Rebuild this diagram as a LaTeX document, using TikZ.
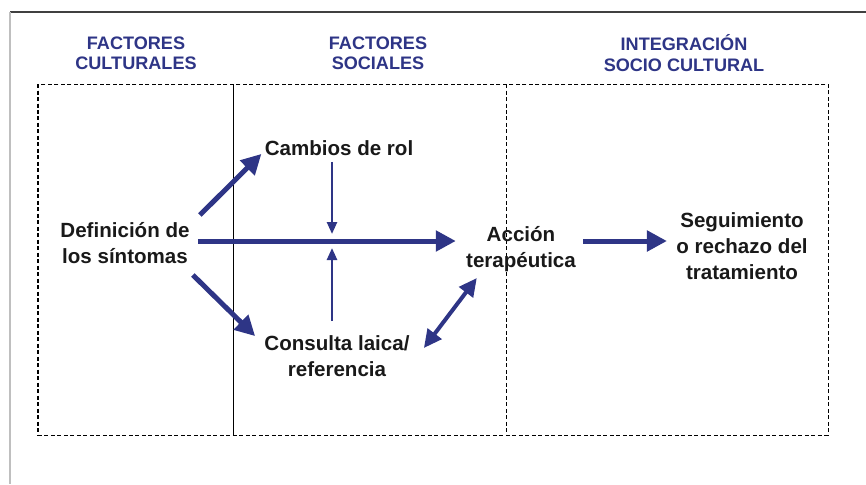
\documentclass[tikz,border=0pt]{standalone}
\usepackage{fontspec}
\setmainfont{Liberation Sans}
\usetikzlibrary{arrows.meta}
\definecolor{azul}{RGB}{46,53,134}
\definecolor{tinta}{RGB}{25,25,25}
\tikzset{
    TT/.style ={align=center, text=azul, font=\fontsize{10.3}{11.6}\selectfont\bfseries, inner sep=0pt},
    TX/.style ={align=center, text=tinta, font=\fontsize{11.7}{14.8}\selectfont\bfseries, inner sep=0.06cm},
    AR1/.style ={draw=azul, line width=0.1cm, -{Triangle[length=0.4cm,width=0.4cm]}},
    AR2/.style ={draw=azul, line width=0.05cm, -{Triangle[length=0.24cm,width=0.2cm]}},
    AR3/.style ={draw=azul, line width=0.08cm, {Triangle[length=0.36cm,width=0.34cm]}-{Triangle[length=0.36cm,width=0.34cm]}},
    DA/.style ={draw=black, line width=0.02cm, dash pattern=on 0.08cm off 0.05cm}}

\begin{document}
\begin{tikzpicture}[x=0.02cm, y=-0.02cm]
        \useasboundingbox (0,0) rectangle (866,484);
        % marco
        \draw[line width=0.03cm, black!75] (10,12) -- (866,12);
        \draw[line width=0.04cm, black!25] (10,12) -- (10,484);
        \draw[DA] (38,84) rectangle (828,435);
        \draw[DA, line width=0.04cm] (38,84) -- (38,435);
        \draw[DA] (506,84) -- (506,435);
        \draw[line width=0.02cm] (233,84) -- (233,435);
        % titulos
        \node[TT] (cult) at (136,53) {FACTORES\\CULTURALES};
        \node[TT] (soc) at (378,53) {FACTORES\\SOCIALES};
        \node[TT] (integ) at (684,53) {INTEGRACIÓN\\SOCIO CULTURAL};
        % nodos
        \node[TX] (def) at (125,243) {Definición de\\los síntomas};
        \node[TX] (cambios) at (339,148) {Cambios de rol};
        \node[TX] (consulta) at (337,356) {Consulta laica/\\referencia};
        \node[TX] (accion) at (521,249) {Acción\\terapéutica};
        \node[TX] (seg) at (742,246) {Seguimiento\\o rechazo del\\tratamiento};
        \coordinate (cruce) at (332,241);
        % flechas
        \draw[AR1] ([shift={(7,-4)}]def.north east) -- ([shift={(0,-5)}]cambios.south west);
        \draw[AR1] ([shift={(0,8)}]def.south east) -- ([shift={(-6,4)}]consulta.north west);
        \draw[AR1, shorten <=0.1cm, shorten >=0.14cm] (def.east |- cruce) -- (accion.west |- cruce);
        \draw[AR1, shorten <=0.08cm, shorten >=0.12cm] (accion.east |- cruce) -- (seg.west |- cruce);
        \draw[AR3] ([shift={(11,-8)}]consulta.east) -- ([shift={(14,3)}]accion.south west);
        \draw[AR2, shorten <=0.06cm, shorten >=0.14cm] (cambios.south -| cruce) -- (cruce);
        \draw[AR2, shorten <=0.22cm, shorten >=0.14cm] (consulta.north -| cruce) -- (cruce);
    \end{tikzpicture}
\end{document}
